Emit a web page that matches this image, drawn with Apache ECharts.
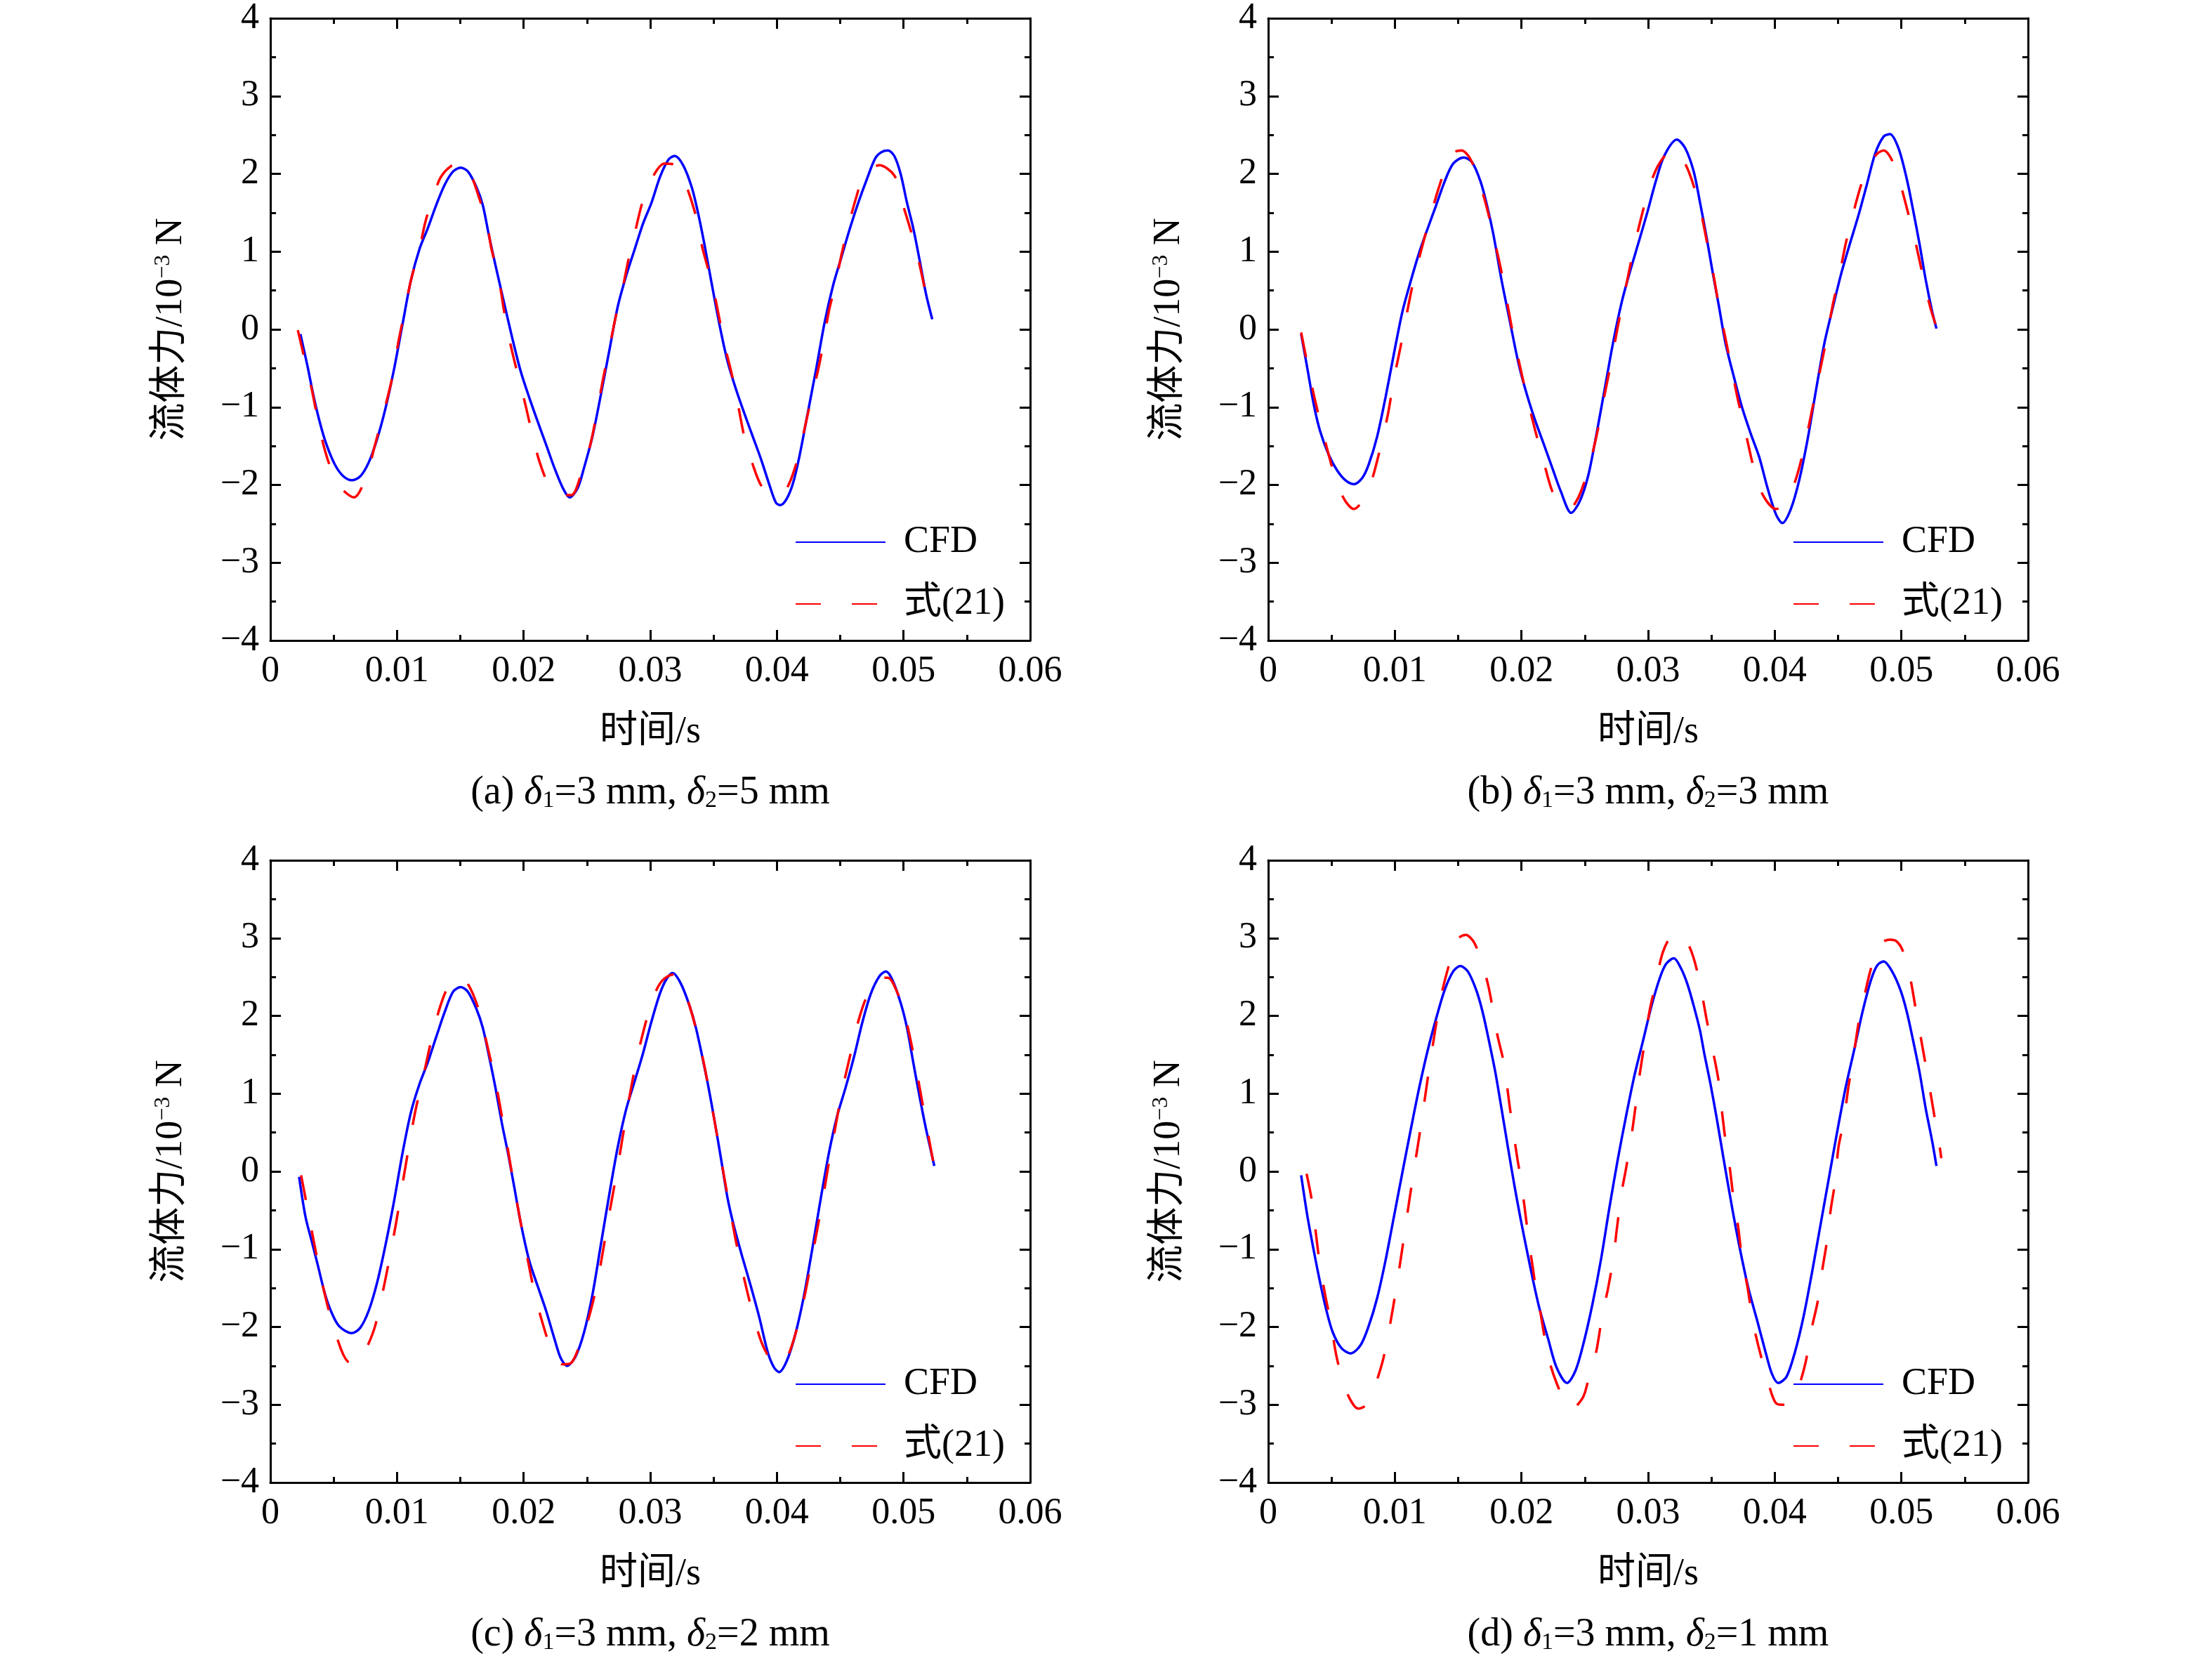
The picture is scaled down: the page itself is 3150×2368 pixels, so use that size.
<!DOCTYPE html>
<html>
<head>
    <meta charset="UTF-8">
    <title>流体力 CFD 与式(21)对比</title>
    <style>
        body { margin: 0; background: #fff; }
        #main { width: 3150px; height: 2368px; }
    </style>
    <script src="https://cdn.jsdelivr.net/npm/echarts@6/dist/echarts.min.js"></script>
</head>
<body>
<div id="main"></div>
<script>
    // ---- data: [时间/s, 流体力/10^-3 N] ----
    var cfdA = [[0.00237,-0.06],[0.00293,-0.47],[0.00343,-0.87],[0.00393,-1.21],[0.00443,-1.48],[0.0051,-1.74],[0.00577,-1.89],[0.00643,-1.94],[0.0071,-1.89],[0.00777,-1.71],[0.00843,-1.41],[0.0091,-1.01],[0.00977,-0.51],[0.01043,0.06],[0.0111,0.63],[0.01177,1.03],[0.01243,1.30],[0.0131,1.60],[0.01377,1.86],[0.01443,2.03],[0.01503,2.08],[0.0156,2.03],[0.01627,1.83],[0.01677,1.60],[0.01727,1.20],[0.01777,0.83],[0.01843,0.36],[0.0191,-0.11],[0.01977,-0.54],[0.02043,-0.87],[0.0211,-1.18],[0.02177,-1.48],[0.02243,-1.78],[0.0231,-2.04],[0.02363,-2.16],[0.02427,-2.04],[0.02477,-1.78],[0.02543,-1.38],[0.0261,-0.84],[0.02677,-0.27],[0.02743,0.29],[0.0281,0.69],[0.02877,1.03],[0.02943,1.36],[0.0301,1.63],[0.03077,1.96],[0.03143,2.18],[0.03193,2.23],[0.0326,2.11],[0.03327,1.83],[0.03377,1.50],[0.03427,1.10],[0.03477,0.66],[0.03543,0.09],[0.0361,-0.41],[0.03677,-0.77],[0.03743,-1.08],[0.0381,-1.38],[0.03877,-1.68],[0.03943,-2.01],[0.03993,-2.23],[0.04027,-2.26],[0.04077,-2.18],[0.04127,-1.98],[0.04177,-1.64],[0.04243,-1.08],[0.0431,-0.51],[0.04377,0.09],[0.04443,0.56],[0.0451,0.93],[0.04577,1.30],[0.04643,1.63],[0.0471,1.93],[0.04777,2.20],[0.04827,2.28],[0.04877,2.30],[0.04927,2.23],[0.04977,2.00],[0.05027,1.63],[0.05077,1.30],[0.05127,0.89],[0.05177,0.46],[0.05227,0.13]];
    var fitA = [[0.00217,-0.01],[0.0026,-0.31],[0.00327,-0.77],[0.00393,-1.31],[0.0046,-1.71],[0.00543,-2.01],[0.0066,-2.16],[0.0076,-1.88],[0.00827,-1.48],[0.00893,-1.08],[0.0096,-0.64],[0.0101,-0.17],[0.0106,0.23],[0.0111,0.63],[0.01177,1.03],[0.01227,1.40],[0.01293,1.73],[0.01343,1.95],[0.01427,2.10],[0.01517,2.14],[0.01577,2.01],[0.01627,1.80],[0.0171,1.36],[0.01743,1.06],[0.0181,0.59],[0.01843,0.26],[0.01893,-0.17],[0.01943,-0.51],[0.0201,-0.94],[0.02077,-1.41],[0.02127,-1.71],[0.02193,-1.98],[0.02277,-2.13],[0.02377,-2.13],[0.0246,-1.83],[0.02527,-1.48],[0.02577,-1.08],[0.02627,-0.64],[0.02677,-0.24],[0.02727,0.16],[0.02777,0.49],[0.02827,0.89],[0.02877,1.23],[0.02943,1.66],[0.03027,1.98],[0.0311,2.13],[0.0321,2.11],[0.03293,1.81],[0.03377,1.36],[0.0341,1.06],[0.03493,0.56],[0.03543,0.16],[0.03593,-0.24],[0.03643,-0.57],[0.03693,-0.97],[0.03743,-1.38],[0.0381,-1.74],[0.03877,-2.01],[0.0396,-2.11],[0.0406,-2.08],[0.04143,-1.78],[0.0421,-1.34],[0.0426,-0.97],[0.04327,-0.51],[0.0436,-0.24],[0.0441,0.23],[0.0446,0.56],[0.0451,0.96],[0.0456,1.30],[0.04627,1.70],[0.04693,2.00],[0.0481,2.11],[0.04927,1.98],[0.04977,1.70],[0.05077,1.16],[0.05127,0.83],[0.05177,0.46],[0.05227,0.16]];

    var cfdB = [[0.0026,-0.06],[0.0031,-0.51],[0.0036,-0.97],[0.0041,-1.31],[0.00477,-1.61],[0.00543,-1.81],[0.0061,-1.94],[0.00677,-1.99],[0.00743,-1.91],[0.00793,-1.74],[0.0086,-1.38],[0.00927,-0.87],[0.00993,-0.31],[0.0106,0.23],[0.01127,0.63],[0.01193,0.99],[0.0126,1.30],[0.01327,1.60],[0.01393,1.90],[0.0146,2.13],[0.01543,2.21],[0.0161,2.15],[0.01677,1.90],[0.01727,1.60],[0.01777,1.23],[0.01843,0.63],[0.0191,0.09],[0.01977,-0.44],[0.02043,-0.84],[0.0211,-1.18],[0.02177,-1.48],[0.02243,-1.78],[0.0231,-2.08],[0.02393,-2.36],[0.0246,-2.21],[0.02527,-1.88],[0.02593,-1.34],[0.0266,-0.74],[0.02727,-0.14],[0.02793,0.36],[0.0286,0.76],[0.02927,1.13],[0.02993,1.50],[0.0306,1.90],[0.03127,2.23],[0.03227,2.44],[0.03293,2.33],[0.0336,2.03],[0.0341,1.63],[0.0346,1.20],[0.0351,0.73],[0.0356,0.29],[0.0361,-0.17],[0.03677,-0.61],[0.03743,-1.01],[0.0381,-1.34],[0.03877,-1.64],[0.03943,-2.04],[0.0401,-2.38],[0.0406,-2.49],[0.04127,-2.31],[0.04193,-1.94],[0.0426,-1.41],[0.04327,-0.77],[0.04393,-0.17],[0.0446,0.29],[0.04527,0.73],[0.04593,1.10],[0.0466,1.46],[0.04727,1.86],[0.04793,2.26],[0.0486,2.48],[0.0491,2.51],[0.04977,2.33],[0.05043,1.93],[0.05093,1.53],[0.05143,1.10],[0.05193,0.63],[0.05243,0.23],[0.05277,0.01]];
    var fitB = [[0.0026,-0.04],[0.00293,-0.31],[0.0036,-0.84],[0.0041,-1.18],[0.00477,-1.61],[0.00543,-1.98],[0.0061,-2.21],[0.00677,-2.31],[0.00743,-2.21],[0.0081,-1.98],[0.00877,-1.58],[0.00943,-1.11],[0.00993,-0.64],[0.01043,-0.24],[0.01093,0.19],[0.01143,0.59],[0.0121,1.03],[0.01277,1.43],[0.01343,1.80],[0.0141,2.11],[0.01477,2.28],[0.01527,2.30],[0.01593,2.20],[0.0166,1.93],[0.01727,1.56],[0.01793,1.10],[0.01843,0.73],[0.01893,0.29],[0.01943,-0.14],[0.01993,-0.51],[0.02043,-0.87],[0.0211,-1.31],[0.02177,-1.71],[0.02243,-2.08],[0.0231,-2.24],[0.02377,-2.31],[0.02443,-2.18],[0.02493,-1.98],[0.02543,-1.71],[0.0261,-1.24],[0.0266,-0.81],[0.0271,-0.41],[0.0276,0.03],[0.0281,0.43],[0.0286,0.83],[0.0291,1.20],[0.0296,1.53],[0.0301,1.83],[0.03077,2.10],[0.0316,2.28],[0.03227,2.30],[0.03293,2.13],[0.03343,1.93],[0.0341,1.56],[0.0346,1.16],[0.0351,0.76],[0.0356,0.29],[0.0361,-0.11],[0.0366,-0.51],[0.0371,-0.91],[0.03777,-1.38],[0.03843,-1.84],[0.0391,-2.14],[0.0401,-2.31],[0.04077,-2.24],[0.04127,-2.11],[0.04193,-1.78],[0.0426,-1.31],[0.0431,-0.91],[0.0436,-0.51],[0.0441,-0.11],[0.0446,0.33],[0.0451,0.69],[0.0456,1.10],[0.0461,1.43],[0.04677,1.83],[0.04743,2.11],[0.0481,2.26],[0.0486,2.30],[0.04927,2.17],[0.04993,1.86],[0.05043,1.56],[0.0511,1.13],[0.0516,0.76],[0.05227,0.29],[0.05277,0.03]];

    var cfdC = [[0.00227,-0.07],[0.00277,-0.58],[0.00327,-0.90],[0.00377,-1.22],[0.00427,-1.55],[0.00477,-1.79],[0.00543,-1.99],[0.00643,-2.08],[0.0071,-2.01],[0.00777,-1.79],[0.00843,-1.43],[0.0091,-0.94],[0.00977,-0.38],[0.01043,0.23],[0.0111,0.76],[0.01177,1.12],[0.01243,1.40],[0.0131,1.73],[0.01377,2.05],[0.01443,2.31],[0.01503,2.37],[0.0156,2.31],[0.01627,2.09],[0.01677,1.85],[0.01727,1.48],[0.01777,1.08],[0.01827,0.63],[0.01877,0.23],[0.01927,-0.21],[0.01977,-0.66],[0.02043,-1.14],[0.0211,-1.47],[0.02177,-1.79],[0.02243,-2.15],[0.02293,-2.40],[0.02343,-2.50],[0.0241,-2.38],[0.02477,-2.07],[0.02543,-1.59],[0.0261,-0.94],[0.02677,-0.29],[0.02743,0.31],[0.0281,0.80],[0.02877,1.16],[0.02943,1.52],[0.0301,1.93],[0.03077,2.29],[0.03127,2.47],[0.03177,2.55],[0.03243,2.41],[0.0331,2.13],[0.0336,1.85],[0.0341,1.48],[0.0346,1.08],[0.0351,0.63],[0.0356,0.15],[0.0361,-0.34],[0.0366,-0.70],[0.03727,-1.10],[0.03793,-1.47],[0.0386,-1.87],[0.03927,-2.32],[0.03977,-2.52],[0.04017,-2.58],[0.04077,-2.44],[0.04143,-2.11],[0.0421,-1.63],[0.04277,-1.02],[0.04343,-0.38],[0.0441,0.23],[0.04477,0.72],[0.04543,1.08],[0.0461,1.48],[0.04677,1.93],[0.04743,2.29],[0.0481,2.51],[0.0486,2.57],[0.0491,2.47],[0.04977,2.17],[0.05027,1.85],[0.05077,1.40],[0.05127,0.96],[0.05177,0.55],[0.05243,0.07]];
    var fitC = [[0.00243,-0.05],[0.00277,-0.34],[0.00343,-0.90],[0.00393,-1.31],[0.00443,-1.67],[0.0049,-1.95],[0.00577,-2.36],[0.00643,-2.48],[0.0069,-2.46],[0.0076,-2.27],[0.00827,-1.99],[0.00893,-1.51],[0.00943,-1.10],[0.00993,-0.66],[0.01043,-0.17],[0.01093,0.31],[0.01143,0.76],[0.0121,1.24],[0.01277,1.73],[0.01343,2.13],[0.0141,2.39],[0.01493,2.49],[0.0156,2.41],[0.01643,2.09],[0.0171,1.64],[0.01777,1.16],[0.01827,0.72],[0.01877,0.27],[0.01927,-0.21],[0.01977,-0.66],[0.02043,-1.22],[0.0209,-1.59],[0.02157,-1.99],[0.02227,-2.32],[0.0231,-2.48],[0.02377,-2.46],[0.02443,-2.23],[0.0251,-1.91],[0.02577,-1.47],[0.02627,-1.02],[0.02677,-0.54],[0.02727,-0.09],[0.02777,0.39],[0.02827,0.88],[0.02893,1.44],[0.0296,1.89],[0.03027,2.25],[0.03093,2.45],[0.03177,2.53],[0.03243,2.41],[0.0331,2.13],[0.03377,1.73],[0.03427,1.36],[0.03477,0.92],[0.03527,0.47],[0.03577,-0.01],[0.03627,-0.46],[0.03677,-0.90],[0.03743,-1.39],[0.0381,-1.83],[0.03877,-2.19],[0.03943,-2.40],[0.0401,-2.48],[0.04077,-2.40],[0.04143,-2.11],[0.0421,-1.67],[0.0426,-1.26],[0.0431,-0.82],[0.0436,-0.38],[0.0441,0.11],[0.0446,0.55],[0.0451,1.00],[0.04577,1.48],[0.04643,1.93],[0.0471,2.25],[0.04793,2.47],[0.04877,2.49],[0.04943,2.33],[0.0501,2.01],[0.05077,1.52],[0.05127,1.08],[0.05177,0.63],[0.05243,0.05]];

    var cfdD = [[0.0026,-0.05],[0.0031,-0.58],[0.0036,-1.02],[0.0041,-1.43],[0.0046,-1.79],[0.0051,-2.07],[0.00577,-2.27],[0.0065,-2.34],[0.00727,-2.24],[0.00793,-1.99],[0.0086,-1.63],[0.00927,-1.14],[0.00993,-0.58],[0.0106,-0.01],[0.01127,0.55],[0.01193,1.08],[0.0126,1.56],[0.01327,1.97],[0.01393,2.33],[0.0146,2.57],[0.01517,2.64],[0.01577,2.57],[0.01643,2.33],[0.01693,2.05],[0.01743,1.68],[0.01793,1.28],[0.01843,0.80],[0.01893,0.31],[0.01943,-0.17],[0.01993,-0.61],[0.02043,-1.02],[0.0209,-1.39],[0.0214,-1.75],[0.0221,-2.15],[0.02277,-2.52],[0.0236,-2.72],[0.02427,-2.56],[0.02493,-2.19],[0.0256,-1.71],[0.02627,-1.14],[0.02693,-0.48],[0.0276,0.15],[0.02827,0.72],[0.02893,1.24],[0.0296,1.68],[0.03027,2.13],[0.03093,2.49],[0.03143,2.67],[0.03203,2.74],[0.0326,2.61],[0.0331,2.41],[0.0336,2.13],[0.0341,1.81],[0.03443,1.52],[0.03493,1.12],[0.03543,0.67],[0.03593,0.19],[0.03643,-0.28],[0.03693,-0.73],[0.03743,-1.14],[0.03793,-1.51],[0.0386,-1.91],[0.03927,-2.32],[0.03977,-2.60],[0.04027,-2.72],[0.04093,-2.64],[0.0416,-2.32],[0.04227,-1.87],[0.04293,-1.31],[0.0436,-0.70],[0.04427,-0.09],[0.04493,0.51],[0.0456,1.08],[0.04627,1.56],[0.04693,2.05],[0.0476,2.46],[0.0481,2.65],[0.0486,2.70],[0.04927,2.57],[0.04993,2.33],[0.05043,2.05],[0.05093,1.68],[0.05143,1.28],[0.05193,0.80],[0.05243,0.39],[0.05277,0.07]];
    var fitD = [[0.00303,-0.03],[0.00343,-0.36],[0.00377,-0.80],[0.00403,-1.14],[0.0045,-1.59],[0.0049,-1.91],[0.00537,-2.36],[0.00583,-2.66],[0.00643,-2.92],[0.0071,-3.05],[0.0076,-3.02],[0.00817,-2.88],[0.0086,-2.68],[0.0091,-2.40],[0.0096,-1.99],[0.0101,-1.51],[0.0106,-0.98],[0.0111,-0.42],[0.0116,0.11],[0.0121,0.63],[0.0126,1.20],[0.0131,1.73],[0.0136,2.21],[0.0141,2.55],[0.01493,2.98],[0.0156,3.04],[0.01627,2.94],[0.01693,2.65],[0.01743,2.35],[0.0181,1.75],[0.0186,1.40],[0.0191,0.80],[0.01967,0.17],[0.02,-0.15],[0.02043,-0.70],[0.02103,-1.39],[0.02143,-1.75],[0.02193,-2.23],[0.02227,-2.48],[0.02277,-2.72],[0.02343,-2.96],[0.02393,-3.06],[0.02443,-3.00],[0.02493,-2.88],[0.0254,-2.60],[0.0259,-2.32],[0.0264,-1.83],[0.02683,-1.51],[0.02727,-1.10],[0.02753,-0.74],[0.02793,-0.25],[0.02827,0.05],[0.02877,0.55],[0.02933,1.24],[0.02967,1.60],[0.0301,2.05],[0.03053,2.37],[0.03117,2.82],[0.03193,3.04],[0.03243,3.05],[0.0331,2.94],[0.0336,2.74],[0.0341,2.41],[0.0346,1.97],[0.035,1.64],[0.03553,1.20],[0.03577,0.86],[0.0361,0.41],[0.03643,0.07],[0.03677,-0.38],[0.0371,-0.70],[0.03743,-1.14],[0.03783,-1.47],[0.03827,-1.93],[0.0387,-2.24],[0.03943,-2.68],[0.0401,-2.98],[0.04077,-3.00],[0.04143,-2.92],[0.04187,-2.78],[0.04243,-2.46],[0.04293,-2.01],[0.04337,-1.69],[0.04377,-1.25],[0.0441,-0.92],[0.04443,-0.48],[0.04477,-0.13],[0.04503,0.31],[0.04543,0.63],[0.04583,1.10],[0.04617,1.42],[0.0466,1.89],[0.0471,2.27],[0.0476,2.61],[0.04827,2.92],[0.0491,2.98],[0.0496,2.96],[0.0501,2.84],[0.05067,2.51],[0.0511,2.12],[0.0516,1.66],[0.0521,1.20],[0.0526,0.72],[0.05303,0.31],[0.05315,0.17]];

    var cfdList = [cfdA, cfdB, cfdC, cfdD];
    var fitList = [fitA, fitB, fitC, fitD];
    var panelTags = ['(a)', '(b)', '(c)', '(d)'];
    var delta1 = ['3', '3', '3', '3'];
    var delta2 = ['5', '3', '2', '1'];
    var legendNames = ['CFD', '式(21)'];
    var xTicks = { min: 0, max: 0.06, interval: 0.01 };
    var yTicks = { min: -4, max: 4, interval: 1 };

    // ---- layout ----
    var FONT = '"Liberation Serif", "Times New Roman", "Noto Sans CJK SC", serif';
    var FS = 52;
    var grids = [
        { left: 385, top: 26, width: 1082, height: 886 },
        { left: 1806, top: 26, width: 1082, height: 886 },
        { left: 385, top: 1225, width: 1082, height: 886 },
        { left: 1806, top: 1225, width: 1082, height: 886 }
    ];

    function minusFmt(v) {
        return v < 0 ? '\u2212' + Math.abs(v) : String(v);
    }

    var lineBlack = { color: '#000', width: 3 };

    function xAxisOf(i, top) {
        return {
            type: 'value', gridIndex: i, position: top ? 'top' : 'bottom',
            min: xTicks.min, max: xTicks.max, interval: xTicks.interval,
            axisLine: { show: true, onZero: false, lineStyle: lineBlack },
            axisTick: { show: true, inside: true, length: 15, lineStyle: lineBlack },
            minorTick: { show: true, splitNumber: 2, length: 8, lineStyle: lineBlack },
            splitLine: { show: false },
            axisLabel: {
                show: !top, margin: 18, color: '#000', fontSize: FS, fontFamily: FONT
            },
            name: top ? '' : '时间/s',
            nameLocation: 'middle', nameGap: 104,
            nameTextStyle: { color: '#000', fontSize: 54, fontFamily: FONT }
        };
    }

    function yAxisOf(i, right) {
        return {
            type: 'value', gridIndex: i, position: right ? 'right' : 'left',
            min: yTicks.min, max: yTicks.max, interval: yTicks.interval,
            axisLine: { show: true, onZero: false, lineStyle: lineBlack },
            axisTick: { show: true, inside: true, length: 15, lineStyle: lineBlack },
            minorTick: { show: true, splitNumber: 2, length: 8, lineStyle: lineBlack },
            splitLine: { show: false },
            axisLabel: {
                show: !right, margin: 16, color: '#000', fontSize: FS, fontFamily: FONT,
                formatter: minusFmt
            },
            name: right ? '' : '流体力/10{sup|\u22123} N',
            nameLocation: 'middle', nameGap: 114,
            nameTextStyle: {
                color: '#000', fontSize: 54, fontFamily: FONT,
                rich: { sup: { fontSize: 32, fontFamily: FONT, color: '#000', verticalAlign: 'top' } }
            }
        };
    }

    var xAxes = [], yAxes = [], series = [], titles = [], legends = [];
    grids.forEach(function (g, i) {
        xAxes.push(xAxisOf(i, false), xAxisOf(i, true));
        yAxes.push(yAxisOf(i, false), yAxisOf(i, true));

        series.push({
            type: 'line', name: legendNames[0], xAxisIndex: 2 * i, yAxisIndex: 2 * i,
            data: cfdList[i], symbol: 'none', showSymbol: false, smooth: 0.3,
            lineStyle: { color: '#0000ff', width: 3.5 }, itemStyle: { color: '#0000ff' }, z: 3
        });
        series.push({
            type: 'line', name: legendNames[1], xAxisIndex: 2 * i, yAxisIndex: 2 * i,
            data: fitList[i], symbol: 'none', showSymbol: false, smooth: 0.3,
            lineStyle: { color: '#ff0000', width: 3.5, type: [36, 44] }, itemStyle: { color: '#ff0000' }, z: 4
        });

        titles.push({
            text: panelTags[i] + ' {i|δ}{sub|1}=' + delta1[i] + ' mm, {i|δ}{sub|2}=' + delta2[i] + ' mm',
            left: g.left + g.width / 2, top: g.top + g.height + 189,
            textAlign: 'center', padding: 0,
            textStyle: {
                color: '#000', fontSize: 56, fontWeight: 'normal', fontFamily: FONT,
                rich: {
                    i: { fontSize: 56, fontStyle: 'italic', fontFamily: FONT, color: '#000' },
                    sub: { fontSize: 34, fontFamily: FONT, color: '#000', verticalAlign: 'bottom' }
                }
            }
        });

        legends.push({
            orient: 'vertical', left: g.left + 742, top: g.top + 714,
            itemWidth: 128, itemHeight: 20, itemGap: 34, selectedMode: false,
            itemStyle: { opacity: 0 },
            data: legendNames,
            textStyle: { color: '#000', fontSize: 54, fontFamily: FONT, padding: [0, 0, 0, 21] }
        });
    });

    var myChart = echarts.init(document.getElementById('main'));
    myChart.setOption({
        animation: false,
        backgroundColor: '#fff',
        title: titles,
        legend: legends,
        grid: grids,
        xAxis: xAxes,
        yAxis: yAxes,
        series: series
    });
</script>
</body>
</html>
